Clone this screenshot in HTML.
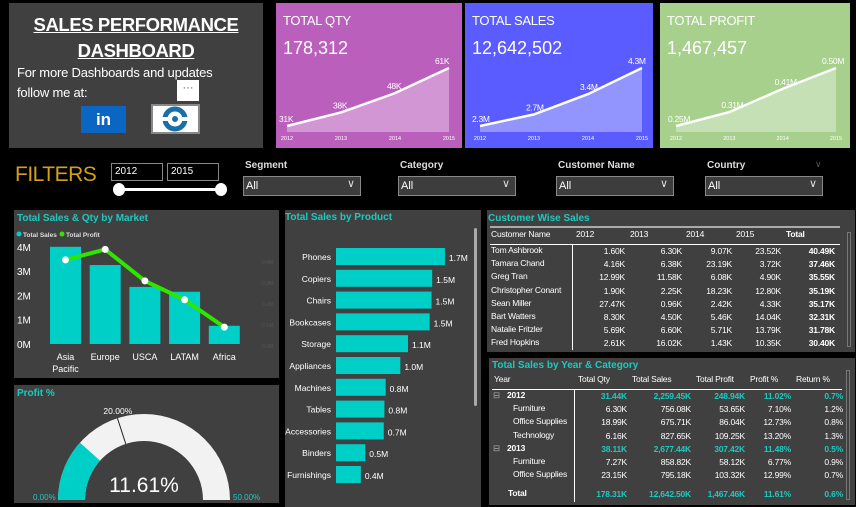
<!DOCTYPE html>
<html><head><meta charset="utf-8">
<style>
*{box-sizing:border-box;margin:0;padding:0}
body{width:856px;height:507px;background:#000;position:relative;overflow:hidden;font-family:"Liberation Sans Narrow","Liberation Sans",sans-serif;color:#fff}
.abs{position:absolute}
.panel{position:absolute;background:#404040}
.ptitle{position:absolute;color:#1cc9c0;font-size:10px;font-weight:bold;font-family:"Liberation Sans",sans-serif;letter-spacing:0}
.card{position:absolute;}
.ctitle{position:absolute;left:7px;top:10px;font-size:13px;color:#fff;letter-spacing:-0.3px}
.cval{position:absolute;left:7px;top:35px;font-size:18px;color:#fff}
.drop{position:absolute;top:176px;height:20px;border:1px solid #888;background:#3d3d3d;font-size:11px;padding:3px 2px}
.drop span.ch{position:absolute;right:5px;top:0px;font-size:11px;color:#ddd}
.flab{position:absolute;top:160px;font-size:10px;font-weight:bold;color:#ddd;font-family:"Liberation Sans",sans-serif}
.cell{position:absolute;font-size:8.5px;white-space:nowrap;font-family:"Liberation Sans",sans-serif;letter-spacing:-0.2px}
</style></head><body>

<div class="panel" style="left:9px;top:3px;width:254px;height:145px">
  <div class="abs" style="left:0;width:254px;top:9px;text-align:center;font-size:18.5px;letter-spacing:-0.4px;font-weight:bold;text-decoration:underline;line-height:26px">SALES PERFORMANCE<br>DASHBOARD</div>
  <div class="abs" style="left:8px;top:60px;font-size:13px;letter-spacing:-0.2px;line-height:20px">For more Dashboards and updates<br>follow me at:</div>
  <div class="abs" style="left:168px;top:77px;width:22px;height:21px;background:#fff;color:#555;font-size:11px;text-align:center;line-height:16px">···</div>
  <div class="abs" style="left:72px;top:103px;width:45px;height:27px;background:#0a66c2;color:#fff;font-weight:bold;font-size:17px;text-align:center;line-height:27px;font-family:'Liberation Sans',sans-serif">in</div>
  <div class="abs" style="left:142px;top:101px;width:49px;height:30px;background:#fff;border:2px solid #888">
    <svg width="45" height="26"><circle cx="22" cy="13" r="10" fill="none" stroke="#1a6fa8" stroke-width="5"/><rect x="6" y="11" width="32" height="4" fill="#fff"/><circle cx="22" cy="13" r="3" fill="#1a6fa8"/></svg>
  </div>
</div>

<div class="card" style="left:276px;top:3px;width:186px;height:145px;background:#bb5fbd">
  <div class="ctitle">TOTAL QTY</div>
  <div class="cval">178,312</div>
</div>
<div class="card" style="left:465px;top:3px;width:188px;height:145px;background:#5a5cff">
  <div class="ctitle">TOTAL SALES</div>
  <div class="cval">12,642,502</div>
</div>
<div class="card" style="left:660px;top:3px;width:190px;height:145px;background:#a6d08c">
  <div class="ctitle">TOTAL PROFIT</div>
  <div class="cval">1,467,457</div>
</div>
<svg id="spark" class="abs" style="left:0;top:0" width="856" height="150"></svg>

<div class="abs" style="left:15px;top:163px;font-size:21px;color:#d4a017;letter-spacing:-0.5px">FILTERS</div>
<div class="abs" style="left:111px;top:163px;width:52px;height:18px;border:1px solid #888;font-size:10px;padding:2px 3px">2012</div>
<div class="abs" style="left:167px;top:163px;width:52px;height:18px;border:1px solid #888;font-size:10px;padding:2px 3px">2015</div>
<div class="abs" style="left:118px;top:188px;width:103px;height:3px;background:#fff"></div>
<div class="abs" style="left:113px;top:183px;width:12px;height:13px;border-radius:50%;background:#fff"></div>
<div class="abs" style="left:215px;top:183px;width:12px;height:13px;border-radius:50%;background:#fff"></div>

<div class="flab" style="left:245px">Segment</div>
<div class="drop" style="left:243px;width:118px">All<span class="ch">∨</span></div>
<div class="flab" style="left:400px">Category</div>
<div class="drop" style="left:398px;width:118px">All<span class="ch">∨</span></div>
<div class="flab" style="left:558px">Customer Name</div>
<div class="drop" style="left:556px;width:118px">All<span class="ch">∨</span></div>
<div class="flab" style="left:707px">Country</div>
<div class="abs" style="left:815px;top:159px;font-size:9px;color:#556">∨</div>
<div class="drop" style="left:705px;width:118px">All<span class="ch">∨</span></div>

<div class="panel" style="left:14px;top:210px;width:265px;height:168px">
  <div class="ptitle" style="left:3px;top:3px">Total Sales &amp; Qty by Market</div>
</div>
<svg id="market" class="abs" style="left:0;top:0" width="285" height="380"></svg>

<div class="panel" style="left:14px;top:385px;width:265px;height:118px">
  <div class="ptitle" style="left:3px;top:3px">Profit %</div>
</div>
<svg id="gauge" class="abs" style="left:0;top:380px" width="285" height="127"></svg>

<div class="panel" style="left:285px;top:210px;width:196px;height:297px">
  <div class="ptitle" style="left:0px;top:2px">Total Sales by Product</div>
  <div class="abs" style="left:189px;top:18px;width:3px;height:178px;background:#aaa;border-radius:2px"></div>
</div>
<svg id="product" class="abs" style="left:0;top:0" width="485" height="507"></svg>

<div class="panel" style="left:487px;top:210px;width:368px;height:142px">
  <div class="ptitle" style="left:1px;top:3px">Customer Wise Sales</div>
  <div class="abs" style="left:3px;top:16px;width:350px;height:2px;background:#aaa"></div>
  <div class="abs" style="left:3px;top:34px;width:350px;height:1px;background:#fff"></div>
  <div class="abs" style="left:85px;top:35px;width:1px;height:105px;background:#fff"></div>
  <div class="abs" style="left:360px;top:22px;width:4px;height:115px;border:1px solid #777"></div>
</div>
<div class="panel" style="left:489px;top:358px;width:366px;height:147px">
  <div class="ptitle" style="left:3px;top:2px">Total Sales by Year &amp; Category</div>
  <div class="abs" style="left:3px;top:31px;width:350px;height:1px;background:#fff"></div>
  <div class="abs" style="left:85px;top:32px;width:1px;height:112px;background:#fff"></div>
  <div class="abs" style="left:357px;top:12px;width:4px;height:130px;border:1px solid #777"></div>
</div>
<div id="tables"></div>

<script>
const NS="http://www.w3.org/2000/svg";
function mk(p,t,a){const e=document.createElementNS(NS,t);for(const k in a)e.setAttribute(k,a[k]);p.appendChild(e);return e;}

// Sparkline data
const sparkYears=["2012","2013","2014","2015"];
const qtyValues=[31,38,48,61];
const qtyLabels=["31K","38K","48K","61K"];
const salesValues=[2.3,2.7,3.4,4.3];
const salesLabels=["2.3M","2.7M","3.4M","4.3M"];
const profitValues=[0.25,0.31,0.41,0.50];
const profitLabels=["0.25M","0.31M","0.41M","0.50M"];
const sp=document.getElementById('spark');
function spark(vals,labels,x0,x1,name){
  const lo=Math.min(...vals),hi=Math.max(...vals);
  const X=i=>x0+(x1-x0)*i/(vals.length-1);
  const Y=v=>126-(v-lo)/(hi-lo)*58;
  let dl="M"+vals.map((v,i)=>X(i)+" "+Y(v)).join(" L");
  const area=mk(sp,'path',{d:dl+" L"+x1+" 132 L"+x0+" 132 Z",fill:"rgba(255,255,255,0.35)"});
  
  
  const ln=mk(sp,'path',{d:dl,fill:"none",stroke:"#fff","stroke-width":2.5});
  
  
  vals.forEach((v,i)=>{
    const t=mk(sp,'text',{x:X(i)-(i==3?14:8),y:Y(v)-4,fill:"#fff","font-size":8.5,"letter-spacing":-0.3,"font-family":"Liberation Sans, sans-serif"});t.textContent=labels[i];
    
    
    const y=mk(sp,'text',{x:X(i),y:140,fill:"#fff","font-size":5.5,"text-anchor":"middle","font-family":"Liberation Sans, sans-serif"});y.textContent=sparkYears[i];
    
    
  });
}
spark(qtyValues,qtyLabels,287,449,'qty-sparkline');
spark(salesValues,salesLabels,480,642,'sales-sparkline');
spark(profitValues,profitLabels,676,836,'profit-sparkline');

// Market chart
const markets=["Asia Pacific","Europe","USCA","LATAM","Africa"];
const marketSales=[4.0,3.25,2.35,2.15,0.75];
const marketProfit=[0.41,0.46,0.31,0.22,0.09];
const salesTicks=[0,1,2,3,4];
const profitTicks=[0,0.1,0.2,0.3,0.4];
const mc=document.getElementById('market');
const yS=v=>344-v*24.3, yP=v=>346-v*210, xM=i=>50+i*39.7;
{const l=mk(mc,'circle',{cx:19,cy:234,r:2.5,fill:"#00cfc8"});
const t=mk(mc,'text',{x:23,y:237,fill:"#ddd","font-size":6.5,"font-family":"Liberation Sans, sans-serif","font-weight":"bold"});t.textContent="Total Sales";
const l2=mk(mc,'circle',{cx:62,cy:234,r:2.5,fill:"#2ee600"});
const t2=mk(mc,'text',{x:66,y:237,fill:"#ddd","font-size":6.5,"font-family":"Liberation Sans, sans-serif","font-weight":"bold"});t2.textContent="Total Profit";}
salesTicks.forEach(v=>{const t=mk(mc,'text',{x:17,y:yS(v)+4,fill:"#fff","font-size":10});t.textContent=v+"M";});
profitTicks.forEach(v=>{const t=mk(mc,'text',{x:262,y:yP(v)+2,fill:"#555","font-size":5});t.textContent=v.toFixed(1)+"M";});
marketSales.forEach((v,i)=>{const r=mk(mc,'rect',{x:xM(i),y:yS(v),width:31,height:yS(0)-yS(v),fill:"#00cfc8"});
  const parts=markets[i].split(' ');parts.forEach((p,k)=>{const t=mk(mc,'text',{x:xM(i)+15.5,y:360+k*12,fill:"#fff","font-size":9,"text-anchor":"middle"});t.textContent=p;});});
{const pl=mk(mc,'polyline',{points:marketProfit.map((v,i)=>(xM(i)+15.5)+","+yP(v)).join(" "),fill:"none",stroke:"#2ee600","stroke-width":4});}
marketProfit.forEach((v,i)=>{const c=mk(mc,'circle',{cx:xM(i)+15.5,cy:yP(v),r:3.5,fill:"#fff"});});

// Gauge
const gaugeValue=11.61, gaugeTarget=20, gaugeMin=0, gaugeMax=50;
const gg=document.getElementById('gauge');
const cx=144,cy=120,R=86,r=59;
function arc(a0,a1,fill,name){const p=(a,rr)=>[cx-rr*Math.cos(a),cy-rr*Math.sin(a)];
  const [x0,y0]=p(a0,R),[x1,y1]=p(a1,R),[x2,y2]=p(a1,r),[x3,y3]=p(a0,r);
  const e=mk(gg,'path',{d:`M${x0} ${y0} A${R} ${R} 0 0 1 ${x1} ${y1} L${x2} ${y2} A${r} ${r} 0 0 0 ${x3} ${y3}Z`,fill});
  }
const ang=v=>(v-gaugeMin)/(gaugeMax-gaugeMin)*Math.PI;
arc(0,Math.PI,"#f2f2f2",'gauge-track');
arc(0,ang(gaugeValue),"#00cfc8",'gauge-fill');
{const a=ang(gaugeTarget);const l=mk(gg,'line',{x1:cx-r*Math.cos(a),y1:cy-r*Math.sin(a),x2:cx-R*Math.cos(a),y2:cy-R*Math.sin(a),stroke:"#222","stroke-width":1});
const t=mk(gg,'text',{x:cx-R*Math.cos(a)-14,y:cy-R*Math.sin(a)-4,fill:"#fff","font-size":8.5});t.textContent=gaugeTarget.toFixed(2)+"%";}
{const t=mk(gg,'text',{x:cx,y:112,fill:"#fff","font-size":21,"text-anchor":"middle","font-family":"Liberation Sans, sans-serif"});t.textContent=gaugeValue.toFixed(2)+"%";
const a=mk(gg,'text',{x:33,y:120,fill:"#1cc9c0","font-size":8});a.textContent=gaugeMin.toFixed(2)+"%";
const b=mk(gg,'text',{x:233,y:120,fill:"#1cc9c0","font-size":8});b.textContent=gaugeMax.toFixed(2)+"%";}

// Product chart
const products=["Phones","Copiers","Chairs","Bookcases","Storage","Appliances","Machines","Tables","Accessories","Binders","Furnishings"];
const productSales=[1.71,1.51,1.50,1.47,1.13,1.01,0.78,0.76,0.75,0.46,0.39];
const productLabels=["1.7M","1.5M","1.5M","1.5M","1.1M","1.0M","0.8M","0.8M","0.7M","0.5M","0.4M"];
const pc=document.getElementById('product');
const xP=v=>v*63.7, yR=i=>248+i*21.8;
products.forEach((p,i)=>{const w=xP(productSales[i]);
  const b=mk(pc,'rect',{x:336,y:yR(i),width:w,height:17,fill:"#00cfc8"});
  const t=mk(pc,'text',{x:331,y:yR(i)+12,fill:"#fff","font-size":8.5,"text-anchor":"end"});t.textContent=p;
  const v=mk(pc,'text',{x:336+w+4,y:yR(i)+13,fill:"#fff","font-size":8.5});v.textContent=productLabels[i];});

// Tables
const tb=document.getElementById('tables');
function cell(txt,x,y,opt){const d=document.createElement('div');d.className='cell';d.textContent=txt;
  d.style.top=y+'px';if(opt.right!==undefined){d.style.left=(opt.right-80)+'px';d.style.width='80px';d.style.textAlign='right';}else d.style.left=x+'px';
  if(opt.bold)d.style.fontWeight='bold';if(opt.color)d.style.color=opt.color;
  
  
  tb.appendChild(d);}
const custHeaders=["Customer Name","2012","2013","2014","2015","Total"];
const custHX=[491,576,630,686,736,786];
const custRight=[625,682,732,781,835];
const customers=["Tom Ashbrook","Tamara Chand","Greg Tran","Christopher Conant","Sean Miller","Bart Watters","Natalie Fritzler","Fred Hopkins"];
const custValues=[["1.60K","6.30K","9.07K","23.52K","40.49K"],["4.16K","6.38K","23.19K","3.72K","37.46K"],["12.99K","11.58K","6.08K","4.90K","35.55K"],["1.90K","2.25K","18.23K","12.80K","35.19K"],["27.47K","0.96K","2.42K","4.33K","35.17K"],["8.30K","4.50K","5.46K","14.04K","32.31K"],["5.69K","6.60K","5.71K","13.79K","31.78K"],["2.61K","16.02K","1.43K","10.35K","30.40K"]];
custHeaders.forEach((h,i)=>cell(h,custHX[i],229,{name:'customer-column-header',bold:i==5}));
customers.forEach((c,r)=>{const y=245+r*13.2;cell(c,491,y,{name:'customer-name-cell'});
  custValues[r].forEach((v,k)=>cell(v,0,y+1,{right:custRight[k],bold:k==4,name:'customer-value-cell'}));});

const ycHeaders=["Year","Total Qty","Total Sales","Total Profit","Profit %","Return %"];
const ycHX=[494,578,632,696,750,796];
const ycRight=[627,691,745,791,843];
const ycRows=[["2012",1,["31.44K","2,259.45K","248.94K","11.02%","0.7%"]],["Furniture",0,["6.30K","756.08K","53.65K","7.10%","1.2%"]],["Office Supplies",0,["18.99K","675.71K","86.04K","12.73%","0.8%"]],["Technology",0,["6.16K","827.65K","109.25K","13.20%","1.3%"]],["2013",1,["38.11K","2,677.44K","307.42K","11.48%","0.5%"]],["Furniture",0,["7.27K","858.82K","58.12K","6.77%","0.9%"]],["Office Supplies",0,["23.15K","795.18K","103.32K","12.99%","0.7%"]]];
const ycTotal=["178.31K","12,642.50K","1,467.46K","11.61%","0.6%"];
ycHeaders.forEach((h,i)=>cell(h,ycHX[i],374,{name:'year-category-column-header'}));
ycRows.forEach((rw,r)=>{const y=390+r*13.2;
  if(rw[1]){cell("⊟",493,y,{name:'expand-toggle',color:'#aaa'});cell(rw[0],507,y,{name:'year-row-label',bold:true});}
  else cell(rw[0],513,y,{name:'category-row-label'});
  rw[2].forEach((v,k)=>cell(v,0,y+1,{right:ycRight[k],bold:!!rw[1],color:rw[1]?'#1cc9c0':null,name:'year-category-value-cell'}));});
cell("Total",508,488,{name:'total-row-label',bold:true});
ycTotal.forEach((v,k)=>cell(v,0,489,{right:ycRight[k],bold:true,color:'#1cc9c0',name:'total-row-value'}));
</script>
</body></html>
